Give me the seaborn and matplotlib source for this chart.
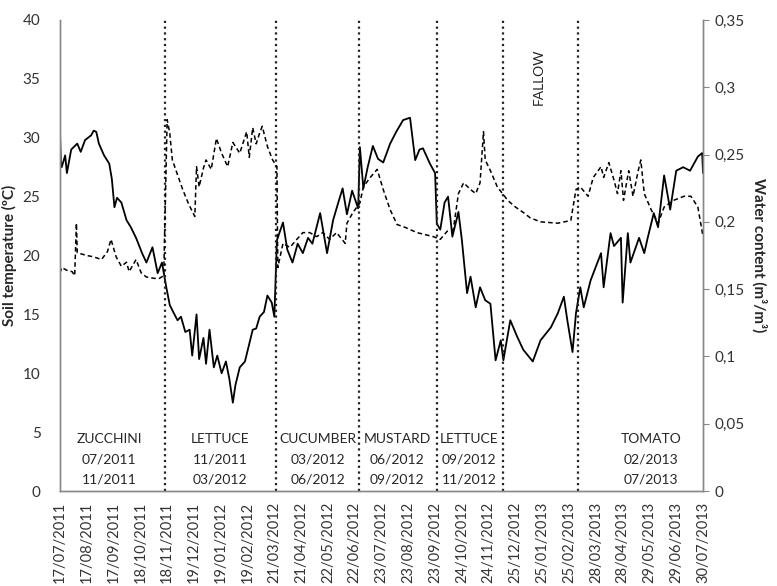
import matplotlib
matplotlib.use("Agg")
import matplotlib.pyplot as plt
from matplotlib.ticker import FuncFormatter, MultipleLocator
import seaborn as sns
import pandas as pd

# days counted from 17/07/2011
start = pd.Timestamp("2011-07-17")

temp_day = [0, 1, 2, 6, 8, 13, 20, 24, 29, 36, 39, 42, 45, 51, 57, 60, 63, 66, 71, 77,
            82, 88, 95, 100, 107, 113, 118, 123, 127, 131, 136, 140, 145, 150, 153, 158,
            161, 166, 169, 173, 178, 182, 187, 192, 196, 200, 203, 208, 214, 219, 223,
            227, 231, 236, 240, 245, 248, 251, 258, 263, 269, 275, 281, 287, 292, 301,
            309, 316, 322, 327, 332, 338, 345, 347, 351, 356, 362, 368, 374, 382, 389,
            397, 405, 411, 416, 420, 428, 434, 436, 440, 445, 449, 454, 461, 465, 471,
            475, 481, 486, 492, 498, 504, 510, 513, 521, 529, 536, 547, 556, 568, 576,
            583, 587, 593, 597, 602, 606, 614, 626, 629, 637, 641, 649, 651, 657, 660,
            670, 676, 680, 687, 692, 699, 706, 713, 721, 729, 738, 743, 744]
temp_val = [30.5, 28.0, 27.5, 28.5, 27.0, 29.0, 29.5, 28.8, 29.8, 30.2, 30.6, 30.5, 29.5,
            28.5, 27.8, 26.5, 24.1, 24.9, 24.5, 23.0, 22.4, 21.5, 20.2, 19.4, 20.7, 18.5,
            19.4, 17.3, 15.8, 15.2, 14.5, 14.8, 13.5, 13.7, 11.5, 15.0, 11.2, 13.0, 10.8,
            13.7, 10.5, 11.5, 10.0, 11.0, 9.5, 7.5, 9.0, 10.5, 11.0, 12.5, 13.7, 13.8,
            14.8, 15.2, 16.6, 16.0, 14.8, 21.3, 22.8, 20.5, 19.4, 21.0, 20.2, 21.5, 21.0,
            23.6, 20.2, 23.0, 24.5, 25.7, 23.5, 25.5, 24.0, 29.2, 25.7, 27.5, 29.3, 28.2,
            27.9, 29.5, 30.5, 31.5, 31.7, 28.1, 29.0, 29.1, 27.8, 27.0, 22.7, 22.2, 24.5,
            25.0, 21.6, 23.7, 21.3, 16.8, 18.2, 15.6, 17.3, 16.2, 15.9, 11.1, 12.8, 11.1,
            14.5, 13.1, 12.0, 11.0, 12.8, 13.9, 15.1, 16.5, 14.5, 11.8, 15.1, 17.3, 15.6,
            17.9, 20.2, 17.3, 21.9, 20.8, 21.5, 16.0, 21.9, 19.4, 21.5, 20.2, 21.5, 23.6,
            22.4, 26.8, 23.9, 27.2, 27.5, 27.2, 28.4, 28.7, 27.0]

water_day = [0, 2, 8, 14, 17, 19, 20, 31, 39, 48, 55, 59, 65, 71, 77, 80, 88, 94, 100,
             109, 115, 120, 124, 127, 130, 136, 142, 149, 156, 158, 161, 166, 169, 175,
             181, 187, 194, 200, 208, 216, 219, 223, 227, 231, 234, 240, 246, 251, 252,
             258, 266, 274, 281, 289, 297, 304, 312, 320, 330, 332, 339, 347, 351, 359,
             367, 374, 382, 390, 399, 413, 432, 440, 448, 455, 461, 467, 475, 481, 486,
             490, 492, 498, 506, 518, 527, 536, 544, 556, 576, 591, 597, 602, 611, 617,
             626, 629, 635, 641, 645, 649, 652, 658, 663, 669, 672, 676, 684, 692, 699,
             710, 722, 730, 738, 744]
water_val = [0.162, 0.166, 0.164, 0.163, 0.160, 0.199, 0.177, 0.175, 0.174, 0.172, 0.178,
             0.187, 0.174, 0.167, 0.170, 0.163, 0.172, 0.162, 0.159, 0.158, 0.158, 0.160,
             0.276, 0.266, 0.246, 0.235, 0.224, 0.213, 0.204, 0.241, 0.226, 0.240, 0.246,
             0.239, 0.262, 0.251, 0.241, 0.259, 0.251, 0.267, 0.248, 0.270, 0.258, 0.266,
             0.271, 0.256, 0.246, 0.241, 0.166, 0.184, 0.181, 0.187, 0.192, 0.192, 0.189,
             0.192, 0.187, 0.192, 0.184, 0.199, 0.207, 0.214, 0.226, 0.233, 0.239, 0.224,
             0.209, 0.198, 0.196, 0.192, 0.189, 0.187, 0.193, 0.194, 0.221, 0.229, 0.224,
             0.221, 0.229, 0.267, 0.246, 0.238, 0.226, 0.216, 0.211, 0.207, 0.203, 0.200,
             0.199, 0.201, 0.224, 0.226, 0.219, 0.233, 0.241, 0.233, 0.244, 0.231, 0.221,
             0.238, 0.216, 0.238, 0.219, 0.238, 0.246, 0.221, 0.209, 0.199, 0.211, 0.216,
             0.219, 0.219, 0.211, 0.189]

boundary_day = [121, 250, 346, 436, 512, 599]

tick_labels = ["17/07/2011", "17/08/2011", "17/09/2011", "18/10/2011", "18/11/2011",
               "19/12/2011", "19/01/2012", "19/02/2012", "21/03/2012", "21/04/2012",
               "22/05/2012", "22/06/2012", "23/07/2012", "23/08/2012", "23/09/2012",
               "24/10/2012", "24/11/2012", "25/12/2012", "25/01/2013", "25/02/2013",
               "28/03/2013", "28/04/2013", "29/05/2013", "29/06/2013", "30/07/2013"]

crop_labels = ["ZUCCHINI\n07/2011\n11/2011", "LETTUCE\n11/2011\n03/2012",
               "CUCUMBER\n03/2012\n06/2012", "MUSTARD\n06/2012\n09/2012",
               "LETTUCE\n09/2012\n11/2012", "TOMATO\n02/2013\n07/2013"]
crop_day = [57, 185, 298, 390, 473, 684]

temp_df = pd.DataFrame({"day": temp_day, "temp": temp_val})
water_df = pd.DataFrame({"day": water_day, "water": water_val})
tick_pos = [(pd.to_datetime(t, format="%d/%m/%Y") - start).days for t in tick_labels]

sns.set_style("white")
plt.rcParams['font.family'] = ['Lato', 'DejaVu Sans']

fig = plt.figure(figsize=(7.77, 5.86), dpi=100)
ax = fig.add_axes([0.0772, 0.1621, 0.8276, 0.8038])
ax2 = ax.twinx()

sns.lineplot(data=temp_df, x="day", y="temp", ax=ax, color="black", linewidth=1.3)
sns.lineplot(data=water_df, x="day", y="water", ax=ax2, color="black", linewidth=1.1,
             linestyle=(0, (3, 2)))

for d in boundary_day:
    ax.axvline(d, color="#222222", linestyle=(0, (1, 1.6)), linewidth=1.6)

for d, lab in zip(crop_day, crop_labels):
    ax.text(d, 2.7, lab, ha="center", va="center", fontsize=10, linespacing=1.8)
ax.text(554, 37.6, "FALLOW", ha="center", va="top", rotation=90, fontsize=10)

ax.set_xlim(0, 744)
ax.set_ylim(0, 40)
ax2.set_ylim(0, 0.35)
ax.yaxis.set_major_locator(MultipleLocator(5))
ax2.yaxis.set_major_locator(MultipleLocator(0.05))
ax2.yaxis.set_major_formatter(FuncFormatter(lambda v, _: f"{v:.2f}".rstrip("0").rstrip(".").replace(".", ",")))

ax.set_xticks(tick_pos)
ax.set_xticklabels(tick_labels, rotation=90, fontsize=10.5, color="#333333")
ax.tick_params(axis="x", length=0, pad=8)
ax.tick_params(axis="y", length=0, labelsize=11, pad=14, labelcolor="#333333")
ax2.tick_params(axis="y", length=4, color="#888888", labelsize=11, pad=4,
                direction="out", labelcolor="#333333")

ax.set_xlabel("")
ax.set_ylabel("Soil temperature (ºC)", fontsize=11, fontweight="bold", labelpad=4)
ax2.set_ylabel("Water content (m³/m³)", fontsize=11, fontweight="bold",
               rotation=270, labelpad=16)

for a in (ax, ax2):
    a.spines["top"].set_visible(False)
    for s in ("left", "right", "bottom"):
        a.spines[s].set_color("#888888")
        a.spines[s].set_linewidth(1.0)
ax.grid(False)
ax2.grid(False)

fig.savefig("out.png", dpi=100)
